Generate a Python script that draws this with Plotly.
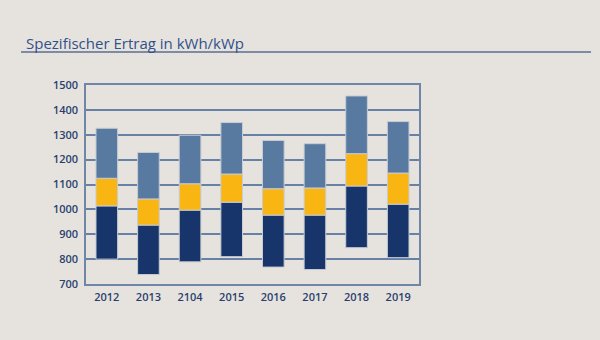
import plotly.graph_objects as go

years = ["2012", "2013", "2104", "2015", "2016", "2017", "2018", "2019"]
base_vals = [800, 738, 789, 810, 768, 758, 846, 806]
navy_top = [1014, 937, 997, 1029, 977, 977, 1094, 1021]
yellow_top = [1125, 1042, 1103, 1142, 1083, 1086, 1224, 1146]
total_top = [1326, 1229, 1298, 1349, 1277, 1264, 1456, 1353]
y_ticks = [700, 800, 900, 1000, 1100, 1200, 1300, 1400, 1500]

title_text = "Spezifischer Ertrag in kWh/kWp"

NAVY = "#17356b"
YELLOW = "#f9b512"
STEEL = "#587aa1"
BG = "#e6e3de"
TXT = "#2a3f6e"
OUTLINE = "#c8ccd3"

fig = go.Figure()
segments = [
    (base_vals, navy_top, NAVY),
    (navy_top, yellow_top, YELLOW),
    (yellow_top, total_top, STEEL),
]
for lo, hi, col in segments:
    fig.add_trace(go.Bar(
        x=years,
        base=lo,
        y=[h - l for l, h in zip(lo, hi)],
        marker=dict(color=col, line=dict(color=OUTLINE, width=1)),
        width=0.52,
        hoverinfo="skip",
    ))

L, R, T, B = 86, 181, 85, 56
W, H = 600, 340
pw = W - L - R

fig.update_layout(
    width=W, height=H,
    margin=dict(l=L, r=R, t=T, b=B, pad=0),
    paper_bgcolor=BG, plot_bgcolor=BG,
    barmode="overlay",
    showlegend=False,
    font=dict(family="Open Sans", color=TXT, size=11),
    xaxis=dict(
        showgrid=False, showline=True, mirror=True,
        linecolor="#6f86a8", linewidth=1.5,
        ticks="", tickfont=dict(size=11, color=TXT, weight=600),
        ticklabelstandoff=2,
    ),
    yaxis=dict(
        range=[700, 1500], tickvals=y_ticks,
        showgrid=True, gridcolor="#6681a5", gridwidth=1.5,
        showline=True, mirror=True, linecolor="#6f86a8", linewidth=1.5,
        zeroline=False, ticks="",
        tickfont=dict(size=11, color=TXT, weight=600),
        ticklabelstandoff=4,
    ),
    annotations=[dict(
        text=title_text, xref="paper", yref="paper",
        x=(24 - L) / pw, y=1 + (T - 43) / (H - T - B),
        xanchor="left", yanchor="middle", showarrow=False,
        font=dict(family="Open Sans", size=15, color="#32508a"),
    )],
    shapes=[dict(
        type="line", xref="paper", yref="paper",
        x0=(21 - L) / pw, x1=(591 - L) / pw,
        y0=1 + (T - 52) / (H - T - B), y1=1 + (T - 52) / (H - T - B),
        line=dict(color="#5a6f90", width=1.5),
    )],
)

fig.write_html("out.html")
